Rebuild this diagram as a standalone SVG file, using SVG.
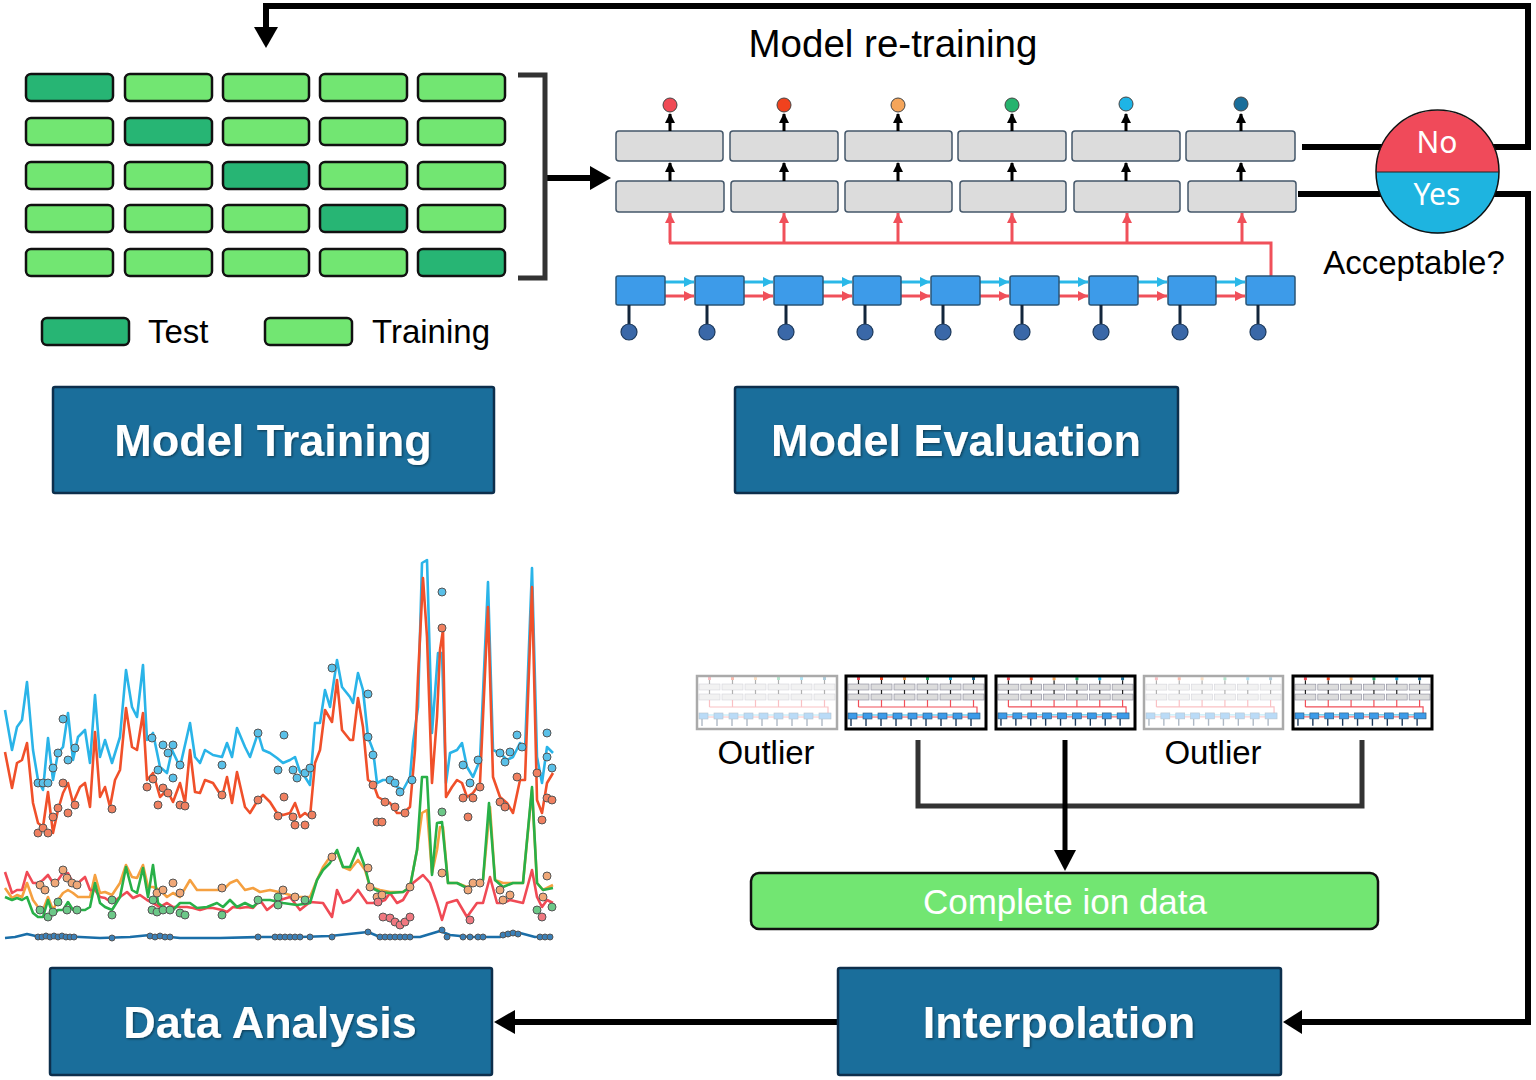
<svg xmlns="http://www.w3.org/2000/svg" xmlns:xlink="http://www.w3.org/1999/xlink" width="1536" height="1080" viewBox="0 0 1536 1080">
<style>
.cellL{fill:#72e672;stroke:#111;stroke-width:2.5}
.cellD{fill:#27b574;stroke:#111;stroke-width:2.5}
.title{fill:#1a6e9b;stroke:#0d2f4c;stroke-width:2.5}
.ttxt{font-family:"Liberation Sans",Arial,sans-serif;font-weight:bold;font-size:45px;fill:#fff;text-anchor:middle;filter:url(#sh)}
.lbl{font-family:"Liberation Sans",Arial,sans-serif;font-size:33px;fill:#000}
.gbox{fill:#dcdcdc;stroke:#44576a;stroke-width:1.5}
.bbox{fill:#3d9be9;stroke:#2a5577;stroke-width:1.5}
.blk{stroke:#000;stroke-width:6;fill:none}
.dk{stroke:#333;stroke-width:5;fill:none}
.red{stroke:#f0505a;stroke-width:3;fill:none}
.stem{stroke:#13263c;stroke-width:3}
.dot{fill:#3a68a8;stroke:#1d3a5c;stroke-width:1.2}
.ln{fill:none;stroke-width:2.6;stroke-linejoin:round}
.pc{stroke:#555;stroke-width:1}
</style>
<defs>
<filter id="sh" x="-10%" y="-20%" width="120%" height="140%"><feDropShadow dx="1.2" dy="1.2" stdDeviation="0.8" flood-color="#000" flood-opacity="0.45"/></filter>
<marker id="ra" markerUnits="userSpaceOnUse" markerWidth="12" markerHeight="12" refX="10" refY="6" orient="auto"><path d="M0,1 L10,6 L0,11 Z" fill="#f0505a"/></marker>
<marker id="ca" markerUnits="userSpaceOnUse" markerWidth="12" markerHeight="12" refX="10" refY="6" orient="auto"><path d="M0,1 L10,6 L0,11 Z" fill="#2ab8e8"/></marker>
<marker id="ka" markerUnits="userSpaceOnUse" markerWidth="12" markerHeight="12" refX="9" refY="6" orient="auto"><path d="M0,1 L10,6 L0,11 Z" fill="#000"/></marker>
<symbol id="mini" viewBox="0 0 140 53">
<g fill="#dcdcdc" stroke="#889" stroke-width="0.6">
<rect x="2" y="8" width="21" height="6"/><rect x="25" y="8" width="21" height="6"/><rect x="48" y="8" width="21" height="6"/><rect x="71" y="8" width="21" height="6"/><rect x="94" y="8" width="21" height="6"/><rect x="117" y="8" width="21" height="6"/>
<rect x="2" y="18" width="21" height="6"/><rect x="25" y="18" width="21" height="6"/><rect x="48" y="18" width="21" height="6"/><rect x="71" y="18" width="21" height="6"/><rect x="94" y="18" width="21" height="6"/><rect x="117" y="18" width="21" height="6"/>
</g>
<g stroke="#222" stroke-width="1.2">
<path d="M12.5,4V8M35.5,4V8M58.5,4V8M81.5,4V8M104.5,4V8M127.5,4V8M12.5,14V18M35.5,14V18M58.5,14V18M81.5,14V18M104.5,14V18M127.5,14V18"/>
</g>
<g>
<rect x="11" y="1" width="3" height="3" fill="#f04a55"/><rect x="34" y="1" width="3" height="3" fill="#f0421e"/><rect x="57" y="1" width="3" height="3" fill="#f5a55a"/><rect x="80" y="1" width="3" height="3" fill="#27b36e"/><rect x="103" y="1" width="3" height="3" fill="#1eb4e6"/><rect x="126" y="1" width="3" height="3" fill="#1a6e9a"/>
</g>
<path d="M12.5,31H131V37M12.5,31V24M35.5,31V24M58.5,31V24M81.5,31V24M104.5,31V24M127.5,31V24" stroke="#f0505a" stroke-width="1.2" fill="none"/>
<g stroke="#f0505a" stroke-width="1"><path d="M11,41H17M26,41H32M41,41H47M56,41H62M71,41H77M86,41H92M101,41H107M116,41H122"/></g>
<g stroke="#2ab8e8" stroke-width="1"><path d="M11,39H17M26,39H32M41,39H47M56,39H62M71,39H77M86,39H92M101,39H107M116,39H122"/></g>
<g fill="#3d9be9" stroke="#2a5577" stroke-width="0.6">
<rect x="2" y="37" width="9" height="6"/><rect x="17" y="37" width="9" height="6"/><rect x="32" y="37" width="9" height="6"/><rect x="47" y="37" width="9" height="6"/><rect x="62" y="37" width="9" height="6"/><rect x="77" y="37" width="9" height="6"/><rect x="92" y="37" width="9" height="6"/><rect x="107" y="37" width="9" height="6"/><rect x="122" y="37" width="12" height="6"/>
</g>
<path d="M5,43V50M20,43V50M35,43V50M50,43V50M65,43V50M80,43V50M95,43V50M110,43V50M125,43V50" stroke="#1d3a5c" stroke-width="1.4"/>
</symbol>
</defs>
<rect width="1536" height="1080" fill="#fff"/>

<g id="connectors">
<path class="blk" d="M1302,147 H1528 V6 H266 V30"/>
<polygon points="254,27 278,27 266,48" fill="#000"/>
<path class="blk" d="M1298,194 H1528 V1022 H1300"/>
<polygon points="1302,1010 1302,1034 1283,1022" fill="#000"/>
<path class="blk" d="M838,1022 H512"/>
<polygon points="515,1010 515,1034 494,1022" fill="#000"/>
<path d="M547,178 H592" stroke="#000" stroke-width="6"/>
<polygon points="590,166 590,190 611,178" fill="#000"/>
<path d="M518,75 H545 V278 H518" stroke="#333" stroke-width="5" fill="none"/>
<path class="dk" d="M918,740 V806 H1362 V740"/>
<path d="M1065,740 V852" stroke="#000" stroke-width="5"/>
<polygon points="1054,850 1076,850 1065,871" fill="#000"/>
</g>

<g id="model-training-grid">
<rect class="cellD" x="26" y="74" width="87" height="27" rx="5"/>
<rect class="cellL" x="125" y="74" width="87" height="27" rx="5"/>
<rect class="cellL" x="223" y="74" width="86" height="27" rx="5"/>
<rect class="cellL" x="320" y="74" width="87" height="27" rx="5"/>
<rect class="cellL" x="418" y="74" width="87" height="27" rx="5"/>
<rect class="cellL" x="26" y="118" width="87" height="27" rx="5"/>
<rect class="cellD" x="125" y="118" width="87" height="27" rx="5"/>
<rect class="cellL" x="223" y="118" width="86" height="27" rx="5"/>
<rect class="cellL" x="320" y="118" width="87" height="27" rx="5"/>
<rect class="cellL" x="418" y="118" width="87" height="27" rx="5"/>
<rect class="cellL" x="26" y="162" width="87" height="27" rx="5"/>
<rect class="cellL" x="125" y="162" width="87" height="27" rx="5"/>
<rect class="cellD" x="223" y="162" width="86" height="27" rx="5"/>
<rect class="cellL" x="320" y="162" width="87" height="27" rx="5"/>
<rect class="cellL" x="418" y="162" width="87" height="27" rx="5"/>
<rect class="cellL" x="26" y="205" width="87" height="27" rx="5"/>
<rect class="cellL" x="125" y="205" width="87" height="27" rx="5"/>
<rect class="cellL" x="223" y="205" width="86" height="27" rx="5"/>
<rect class="cellD" x="320" y="205" width="87" height="27" rx="5"/>
<rect class="cellL" x="418" y="205" width="87" height="27" rx="5"/>
<rect class="cellL" x="26" y="249" width="87" height="27" rx="5"/>
<rect class="cellL" x="125" y="249" width="87" height="27" rx="5"/>
<rect class="cellL" x="223" y="249" width="86" height="27" rx="5"/>
<rect class="cellL" x="320" y="249" width="87" height="27" rx="5"/>
<rect class="cellD" x="418" y="249" width="87" height="27" rx="5"/>
</g>
<g id="legend">
<rect class="cellD" x="42" y="318" width="87" height="27" rx="5"/>
<text class="lbl" x="148" y="343" font-size="34">Test</text>
<rect class="cellL" x="265" y="318" width="87" height="27" rx="5"/>
<text class="lbl" x="372" y="343" font-size="34">Training</text>
</g>

<g id="model-training"><rect class="title" x="53" y="387" width="441" height="106" rx="2"/><text class="ttxt" x="273" y="456">Model Training</text></g>
<g id="model-evaluation"><rect class="title" x="735" y="387" width="443" height="106" rx="2"/><text class="ttxt" x="956" y="456">Model Evaluation</text></g>
<g id="data-analysis"><rect class="title" x="50" y="968" width="442" height="107" rx="2"/><text class="ttxt" x="270" y="1038">Data Analysis</text></g>
<g id="interpolation"><rect class="title" x="838" y="968" width="443" height="107" rx="2"/><text class="ttxt" x="1059" y="1038">Interpolation</text></g>

<g id="retraining-label"><text x="893" y="57" font-family="Liberation Sans, Arial, sans-serif" font-size="38.5" text-anchor="middle">Model re-training</text></g>

<g id="network">
<g>
<rect class="gbox" x="616" y="131" width="107" height="30" rx="3"/>
<rect class="gbox" x="730" y="131" width="108" height="30" rx="3"/>
<rect class="gbox" x="845" y="131" width="107" height="30" rx="3"/>
<rect class="gbox" x="958" y="131" width="108" height="30" rx="3"/>
<rect class="gbox" x="1072" y="131" width="108" height="30" rx="3"/>
<rect class="gbox" x="1186" y="131" width="109" height="30" rx="3"/>
<rect class="gbox" x="616" y="181" width="108" height="31" rx="3"/>
<rect class="gbox" x="731" y="181" width="107" height="31" rx="3"/>
<rect class="gbox" x="845" y="181" width="107" height="31" rx="3"/>
<rect class="gbox" x="960" y="181" width="106" height="31" rx="3"/>
<rect class="gbox" x="1074" y="181" width="106" height="31" rx="3"/>
<rect class="gbox" x="1188" y="181" width="108" height="31" rx="3"/>
</g>
<g stroke="#000" stroke-width="3" marker-end="url(#ka)">
<path d="M670,131 V114"/><path d="M784,131 V114"/><path d="M898,131 V114"/><path d="M1012,131 V114"/><path d="M1126,131 V114"/><path d="M1241,131 V114"/>
<path d="M670,181 V163"/><path d="M784,181 V163"/><path d="M898,181 V163"/><path d="M1012,181 V163"/><path d="M1126,181 V163"/><path d="M1241,181 V163"/>
</g>
<g stroke="#444" stroke-width="1">
<circle cx="670" cy="105" r="7" fill="#f04a55"/>
<circle cx="784" cy="105" r="7" fill="#f0421e"/>
<circle cx="898" cy="105" r="7" fill="#f5a55a"/>
<circle cx="1012" cy="105" r="7" fill="#27b36e"/>
<circle cx="1126" cy="104" r="7" fill="#1eb4e6"/>
<circle cx="1241" cy="104" r="7" fill="#1a6e9a"/>
</g>
<path class="red" d="M669,243 H1271 V276"/>
<g class="red" marker-end="url(#ra)">
<path d="M670,243 V213"/><path d="M784,243 V213"/><path d="M898,243 V213"/><path d="M1012,243 V213"/><path d="M1127,243 V213"/><path d="M1242,243 V213"/>
</g>
<g stroke="#2ab8e8" stroke-width="3" marker-end="url(#ca)">
<path d="M665,282 H694"/><path d="M744,282 H773"/><path d="M823,282 H852"/><path d="M901,282 H930"/><path d="M980,282 H1009"/><path d="M1059,282 H1088"/><path d="M1138,282 H1167"/><path d="M1216,282 H1245"/>
</g>
<g stroke="#f0505a" stroke-width="3" marker-end="url(#ra)">
<path d="M665,296 H694"/><path d="M744,296 H773"/><path d="M823,296 H852"/><path d="M901,296 H930"/><path d="M980,296 H1009"/><path d="M1059,296 H1088"/><path d="M1138,296 H1167"/><path d="M1216,296 H1245"/>
</g>
<g>
<rect class="bbox" x="616" y="276" width="49" height="29" rx="2"/>
<rect class="bbox" x="695" y="276" width="49" height="29" rx="2"/>
<rect class="bbox" x="774" y="276" width="49" height="29" rx="2"/>
<rect class="bbox" x="853" y="276" width="48" height="29" rx="2"/>
<rect class="bbox" x="931" y="276" width="49" height="29" rx="2"/>
<rect class="bbox" x="1010" y="276" width="49" height="29" rx="2"/>
<rect class="bbox" x="1089" y="276" width="49" height="29" rx="2"/>
<rect class="bbox" x="1168" y="276" width="48" height="29" rx="2"/>
<rect class="bbox" x="1246" y="276" width="49" height="29" rx="2"/>
</g>
<g class="stem">
<path d="M629,305V325M707,305V325M786,305V325M865,305V325M943,305V325M1022,305V325M1101,305V325M1180,305V325M1258,305V325"/>
</g>
<g>
<circle class="dot" cx="629" cy="332" r="8"/><circle class="dot" cx="707" cy="332" r="8"/><circle class="dot" cx="786" cy="332" r="8"/><circle class="dot" cx="865" cy="332" r="8"/><circle class="dot" cx="943" cy="332" r="8"/><circle class="dot" cx="1022" cy="332" r="8"/><circle class="dot" cx="1101" cy="332" r="8"/><circle class="dot" cx="1180" cy="332" r="8"/><circle class="dot" cx="1258" cy="332" r="8"/>
</g>
</g>

<g id="decision">
<path d="M1376,172 A61.5,61.5 0 0 1 1499,172 Z" fill="#f04a5a"/>
<path d="M1376,172 A61.5,61.5 0 0 0 1499,172 Z" fill="#1eb4e0"/>
<circle cx="1437.5" cy="171.5" r="61.5" fill="none" stroke="#111" stroke-width="1.5"/>
<line x1="1376" y1="172" x2="1499" y2="172" stroke="#222" stroke-width="1.2"/>
<text x="1437" y="153" font-family="Noto Sans, Open Sans, sans-serif" font-size="30" fill="#fff" text-anchor="middle">No</text>
<text x="1437" y="205" font-family="Noto Sans, Open Sans, sans-serif" font-size="30" fill="#fff" text-anchor="middle">Yes</text>
<text class="lbl" x="1414" y="274" text-anchor="middle">Acceptable?</text>
</g>

<g id="thumbnails">
<g opacity="0.35"><use href="#mini" x="697" y="676" width="140" height="53"/></g>
<rect x="697" y="676" width="140" height="53" fill="none" stroke="#aaa" stroke-width="2.5"/>
<use href="#mini" x="846" y="676" width="140" height="53"/>
<rect x="846" y="676" width="140" height="53" fill="none" stroke="#000" stroke-width="3"/>
<use href="#mini" x="996" y="676" width="139" height="53"/>
<rect x="996" y="676" width="139" height="53" fill="none" stroke="#000" stroke-width="3"/>
<g opacity="0.35"><use href="#mini" x="1144" y="676" width="139" height="53"/></g>
<rect x="1144" y="676" width="139" height="53" fill="none" stroke="#aaa" stroke-width="2.5"/>
<use href="#mini" x="1293" y="676" width="139" height="53"/>
<rect x="1293" y="676" width="139" height="53" fill="none" stroke="#000" stroke-width="3"/>
<text class="lbl" x="766" y="764" text-anchor="middle">Outlier</text>
<text class="lbl" x="1213" y="764" text-anchor="middle">Outlier</text>
</g>

<g id="complete-ion-data">
<rect x="751" y="873" width="627" height="56" rx="8" fill="#72e672" stroke="#111" stroke-width="2.5"/>
<text x="1065" y="914" font-family="Liberation Sans, Arial, sans-serif" font-size="35" fill="#fff" text-anchor="middle">Complete ion data</text>
</g>

<g id="chart">
<polyline class="ln" stroke="#f5a040" points="5,888 12,898 17,895 22,897 27,883 33,900 38,907 43,910 48,897 53,910 58,900 63,893 68,890 73,893 78,897 85,897 90,897 95,875 100,893 105,892 112,895 120,883 126,865 132,877 137,878 143,865 148,887 153,887 160,890 167,897 173,893 180,897 190,880 197,890 207,890 217,890 223,890 230,883 237,880 245,890 253,888 260,892 270,890 283,893 297,897 310,897 317,880 323,867 330,857 337,852 343,867 350,870 358,860 365,870 370,887 380,890 390,892 403,892 410,887 417,850 422,813 427,810 432,873 437,850 440,827 443,827 448,883 457,883 467,887 477,883 483,880 490,807 495,880 503,883 513,883 523,883 532,790 537,883 543,890 553,885"/>
<polyline class="ln" stroke="#f04a55" points="5,872 12,893 17,890 22,890 27,872 33,883 38,883 43,880 48,875 53,883 58,880 63,873 68,873 73,883 78,883 85,877 90,890 95,890 100,897 105,898 112,903 120,897 127,892 133,898 140,895 147,900 153,903 160,907 167,903 173,907 180,907 187,907 193,908 200,910 207,908 213,908 222,910 227,912 233,907 240,908 247,907 253,908 260,900 267,910 280,900 290,897 300,910 310,902 323,903 332,917 337,890 343,903 350,900 358,890 367,903 377,903 385,900 390,893 397,903 403,900 413,883 423,875 430,883 437,903 442,920 447,903 457,900 467,917 477,903 483,903 490,877 497,903 503,903 510,900 523,903 532,870 537,897 542,907 547,900 553,903"/>
<polyline class="ln" stroke="#28b048" points="5,897 12,900 17,898 22,900 27,897 33,913 38,917 43,917 48,900 53,915 58,910 63,910 68,902 73,910 80,910 85,910 90,907 95,883 100,903 105,907 112,910 120,897 126,867 132,890 137,893 143,868 148,897 153,865 158,903 167,910 173,910 180,903 190,903 197,908 207,907 217,903 223,907 230,900 237,907 245,903 253,907 260,900 270,900 283,903 297,905 310,903 317,880 323,870 330,863 337,850 343,867 350,867 358,848 365,867 370,887 380,892 390,893 403,892 410,887 417,850 422,777 427,777 432,875 437,823 442,822 448,883 457,883 467,888 477,883 483,880 489,803 495,880 503,887 513,883 523,883 532,787 537,883 543,890 553,888"/>
<polyline class="ln" stroke="#1a6ea8" points="5,938 15,937 27,934 40,937 60,936 80,937 100,938 130,937 150,935 180,938 220,938 260,937 300,937 330,936 368,932 380,937 420,937 440,931 450,935 470,937 500,937 520,933 535,937 553,936"/>
<polyline class="ln" stroke="#2ab4e8" points="5,710 12,750 17,727 22,720 27,682 33,750 38,780 43,790 48,738 53,780 58,753 63,747 68,713 73,760 78,737 85,730 90,763 95,695 100,757 105,740 112,763 120,737 126,670 132,707 137,717 143,665 147,740 153,733 160,767 167,773 172,750 180,767 190,723 195,757 200,763 205,750 213,755 222,757 227,743 232,757 237,728 245,747 250,757 258,733 263,750 270,753 277,758 283,763 290,760 295,757 300,772 305,777 310,785 315,723 320,723 325,690 330,707 337,660 342,687 350,697 353,703 358,673 363,690 368,737 373,750 377,783 383,780 390,780 397,787 403,790 410,777 413,743 418,707 422,563 427,560 432,733 435,693 438,653 442,653 446,783 450,753 457,750 462,743 467,767 473,777 480,760 488,582 493,750 500,753 507,760 513,757 520,743 525,750 532,568 537,757 542,783 547,747 553,753"/>
<polyline class="ln" stroke="#f0502a" points="5,752 12,788 17,763 22,760 27,743 33,803 38,823 43,827 48,792 53,833 58,810 63,793 68,783 73,803 80,787 85,783 90,807 95,732 100,797 105,787 110,807 115,780 120,770 126,708 132,747 137,750 143,713 147,780 153,773 160,797 167,790 173,802 180,783 185,803 190,750 195,792 200,793 205,780 213,783 222,797 227,777 232,803 237,772 245,807 250,813 258,800 263,795 270,802 277,813 283,815 290,813 295,803 300,817 305,813 310,817 315,763 320,750 325,710 332,722 337,680 342,730 350,740 353,740 358,698 363,727 368,780 373,783 378,797 383,800 390,803 397,813 403,813 410,807 415,750 418,677 423,578 427,637 432,783 437,717 440,650 443,630 446,797 452,787 457,780 462,783 467,797 473,793 480,783 488,607 493,777 500,797 507,803 513,813 520,780 525,780 532,587 537,800 542,813 547,783 553,773"/>
<g class="pc" fill="#5ac0e8">
<circle cx="63" cy="719" r="4"/><circle cx="68" cy="760" r="4"/><circle cx="53" cy="768" r="4"/><circle cx="58" cy="753" r="4"/><circle cx="38" cy="783" r="4"/><circle cx="43" cy="783" r="4"/><circle cx="48" cy="783" r="4"/><circle cx="75" cy="748" r="4"/><circle cx="152" cy="738" r="4"/><circle cx="163" cy="745" r="4"/><circle cx="168" cy="753" r="4"/><circle cx="173" cy="745" r="4"/><circle cx="158" cy="770" r="4"/><circle cx="173" cy="778" r="4"/><circle cx="180" cy="765" r="4"/><circle cx="222" cy="765" r="4"/><circle cx="258" cy="733" r="4"/><circle cx="278" cy="770" r="4"/><circle cx="284" cy="735" r="4"/><circle cx="293" cy="770" r="4"/><circle cx="297" cy="778" r="4"/><circle cx="305" cy="773" r="4"/><circle cx="310" cy="768" r="4"/><circle cx="332" cy="668" r="4"/><circle cx="368" cy="694" r="4"/><circle cx="368" cy="737" r="4"/><circle cx="373" cy="755" r="4"/><circle cx="390" cy="780" r="4"/><circle cx="395" cy="783" r="4"/><circle cx="400" cy="792" r="4"/><circle cx="412" cy="780" r="4"/><circle cx="442" cy="592" r="4"/><circle cx="463" cy="765" r="4"/><circle cx="470" cy="783" r="4"/><circle cx="478" cy="760" r="4"/><circle cx="500" cy="753" r="4"/><circle cx="505" cy="762" r="4"/><circle cx="510" cy="752" r="4"/><circle cx="517" cy="735" r="4"/><circle cx="522" cy="747" r="4"/><circle cx="547" cy="733" r="4"/><circle cx="552" cy="768" r="4"/><circle cx="547" cy="757" r="4"/>
</g>
<g class="pc" fill="#f08060">
<circle cx="38" cy="833" r="4"/><circle cx="43" cy="828" r="4"/><circle cx="48" cy="833" r="4"/><circle cx="53" cy="817" r="4"/><circle cx="58" cy="808" r="4"/><circle cx="68" cy="813" r="4"/><circle cx="75" cy="805" r="4"/><circle cx="63" cy="783" r="4"/><circle cx="112" cy="809" r="4"/><circle cx="147" cy="787" r="4"/><circle cx="153" cy="779" r="4"/><circle cx="158" cy="805" r="4"/><circle cx="163" cy="788" r="4"/><circle cx="168" cy="793" r="4"/><circle cx="180" cy="805" r="4"/><circle cx="185" cy="806" r="4"/><circle cx="222" cy="795" r="4"/><circle cx="258" cy="800" r="4"/><circle cx="278" cy="816" r="4"/><circle cx="284" cy="797" r="4"/><circle cx="293" cy="817" r="4"/><circle cx="295" cy="825" r="4"/><circle cx="305" cy="825" r="4"/><circle cx="312" cy="815" r="4"/><circle cx="377" cy="822" r="4"/><circle cx="382" cy="822" r="4"/><circle cx="373" cy="785" r="4"/><circle cx="385" cy="802" r="4"/><circle cx="395" cy="807" r="4"/><circle cx="405" cy="813" r="4"/><circle cx="442" cy="628" r="4"/><circle cx="463" cy="798" r="4"/><circle cx="468" cy="817" r="4"/><circle cx="473" cy="798" r="4"/><circle cx="480" cy="787" r="4"/><circle cx="500" cy="802" r="4"/><circle cx="505" cy="807" r="4"/><circle cx="517" cy="777" r="4"/><circle cx="537" cy="773" r="4"/><circle cx="542" cy="820" r="4"/><circle cx="547" cy="798" r="4"/><circle cx="552" cy="800" r="4"/>
</g>
<g class="pc" fill="#f0a878">
<circle cx="40" cy="885" r="4"/><circle cx="45" cy="890" r="4"/><circle cx="55" cy="883" r="4"/><circle cx="63" cy="870" r="4"/><circle cx="67" cy="878" r="4"/><circle cx="72" cy="883" r="4"/><circle cx="77" cy="885" r="4"/><circle cx="157" cy="893" r="4"/><circle cx="163" cy="890" r="4"/><circle cx="173" cy="883" r="4"/><circle cx="180" cy="893" r="4"/><circle cx="222" cy="888" r="4"/><circle cx="283" cy="890" r="4"/><circle cx="295" cy="897" r="4"/><circle cx="332" cy="857" r="4"/><circle cx="368" cy="868" r="4"/><circle cx="370" cy="887" r="4"/><circle cx="377" cy="897" r="4"/><circle cx="382" cy="895" r="4"/><circle cx="410" cy="887" r="4"/><circle cx="442" cy="873" r="4"/><circle cx="468" cy="890" r="4"/><circle cx="473" cy="883" r="4"/><circle cx="480" cy="883" r="4"/><circle cx="500" cy="890" r="4"/><circle cx="503" cy="900" r="4"/><circle cx="510" cy="895" r="4"/><circle cx="543" cy="897" r="4"/><circle cx="547" cy="876" r="4"/>
</g>
<g class="pc" fill="#6cc888">
<circle cx="40" cy="910" r="4"/><circle cx="48" cy="917" r="4"/><circle cx="53" cy="912" r="4"/><circle cx="67" cy="910" r="4"/><circle cx="77" cy="910" r="4"/><circle cx="58" cy="902" r="4"/><circle cx="152" cy="910" r="4"/><circle cx="157" cy="912" r="4"/><circle cx="163" cy="910" r="4"/><circle cx="170" cy="910" r="4"/><circle cx="180" cy="913" r="4"/><circle cx="185" cy="915" r="4"/><circle cx="153" cy="900" r="4"/><circle cx="112" cy="900" r="4"/><circle cx="112" cy="915" r="4"/><circle cx="222" cy="915" r="4"/><circle cx="258" cy="900" r="4"/><circle cx="278" cy="897" r="4"/><circle cx="278" cy="905" r="4"/><circle cx="305" cy="900" r="4"/><circle cx="442" cy="812" r="4"/><circle cx="537" cy="910" r="4"/><circle cx="552" cy="907" r="4"/>
</g>
<g class="pc" fill="#f07880">
<circle cx="383" cy="917" r="4"/><circle cx="390" cy="918" r="4"/><circle cx="395" cy="922" r="4"/><circle cx="400" cy="925" r="4"/><circle cx="405" cy="922" r="4"/><circle cx="410" cy="917" r="4"/><circle cx="470" cy="920" r="4"/><circle cx="542" cy="917" r="4"/><circle cx="378" cy="902" r="4"/>
</g>
<g class="pc" fill="#3a80b8">
<circle cx="38" cy="937" r="3"/><circle cx="42" cy="937" r="3"/><circle cx="46" cy="936" r="3"/><circle cx="50" cy="937" r="3"/><circle cx="54" cy="936" r="3"/><circle cx="58" cy="937" r="3"/><circle cx="62" cy="936" r="3"/><circle cx="66" cy="937" r="3"/><circle cx="70" cy="937" r="3"/><circle cx="74" cy="937" r="3"/><circle cx="112" cy="938" r="3"/><circle cx="150" cy="936" r="3"/><circle cx="155" cy="937" r="3"/><circle cx="160" cy="936" r="3"/><circle cx="165" cy="937" r="3"/><circle cx="170" cy="937" r="3"/><circle cx="258" cy="937" r="3"/><circle cx="275" cy="937" r="3"/><circle cx="280" cy="937" r="3"/><circle cx="285" cy="937" r="3"/><circle cx="290" cy="937" r="3"/><circle cx="295" cy="937" r="3"/><circle cx="300" cy="937" r="3"/><circle cx="310" cy="937" r="3"/><circle cx="332" cy="937" r="3"/><circle cx="368" cy="932" r="3"/><circle cx="380" cy="937" r="3"/><circle cx="385" cy="937" r="3"/><circle cx="390" cy="937" r="3"/><circle cx="395" cy="937" r="3"/><circle cx="400" cy="937" r="3"/><circle cx="405" cy="937" r="3"/><circle cx="410" cy="937" r="3"/><circle cx="442" cy="930" r="3"/><circle cx="447" cy="937" r="3"/><circle cx="463" cy="937" r="3"/><circle cx="470" cy="937" r="3"/><circle cx="478" cy="937" r="3"/><circle cx="483" cy="937" r="3"/><circle cx="503" cy="935" r="3"/><circle cx="508" cy="934" r="3"/><circle cx="513" cy="933" r="3"/><circle cx="518" cy="934" r="3"/><circle cx="540" cy="937" r="3"/><circle cx="545" cy="937" r="3"/><circle cx="550" cy="937" r="3"/>
</g>
</g>
</svg>
